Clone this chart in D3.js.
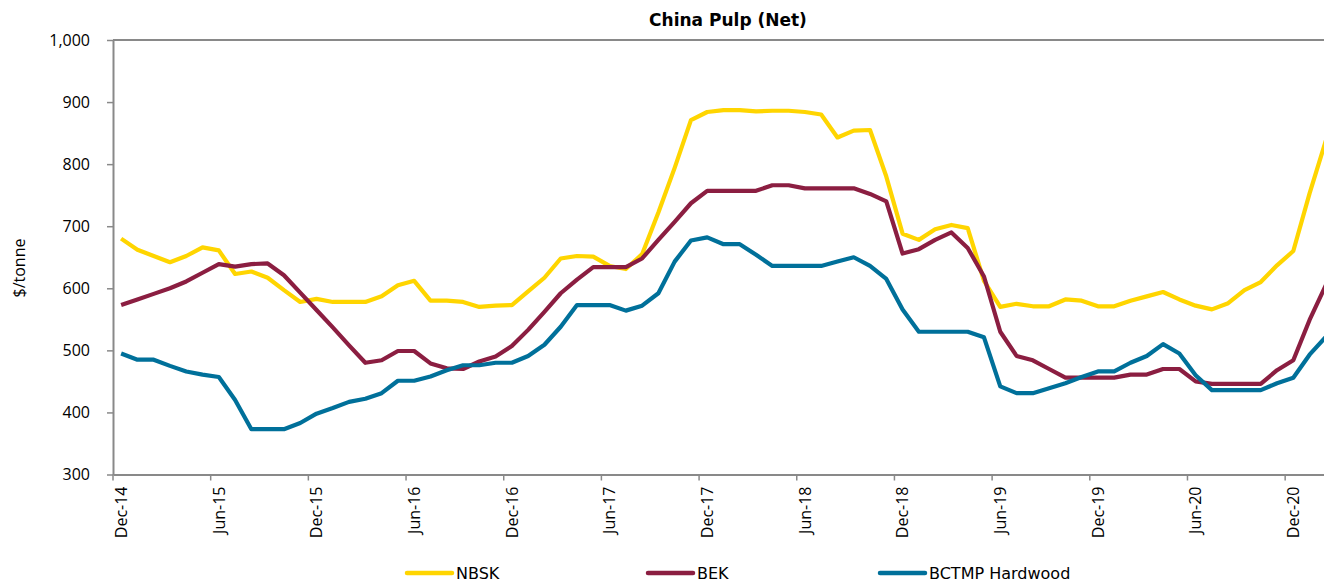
<!DOCTYPE html>
<html>
<head>
<meta charset="utf-8">
<script src="https://cdn.jsdelivr.net/npm/d3@7"></script>
<style>
  html, body { margin: 0; padding: 0; background: #fff; }
  svg { display: block; }
</style>
</head>
<body>
<div id="chart"></div>
<script>
// monthly prices, Dec-14 .. Feb-21 ($/tonne)
const firstMonth = new Date(2014, 11, 1);
const endMonth = new Date(2021, 2, 1); // exclusive
const tickLabels = ["Dec-14", "Jun-15", "Dec-15", "Jun-16", "Dec-16", "Jun-17", "Dec-17",
  "Jun-18", "Dec-18", "Jun-19", "Dec-19", "Jun-20", "Dec-20"];
const yTicks = [300, 400, 500, 600, 700, 800, 900, 1000];

const nbsk = [
  680, 662, 652, 642, 652, 666, 661, 623, 627, 617, 597, 578,
  583, 578, 578, 578, 587, 605, 612, 580, 580, 578, 570, 572,
  573, 595, 617, 648, 652, 651, 636, 631, 655, 722, 794, 871,
  884, 887, 887, 885, 886, 886, 884, 880, 843, 854, 855, 780,
  688, 678, 695, 702, 697, 612, 570, 575, 571, 571, 582, 580,
  571, 571, 580, 587, 594, 582, 572, 566, 576, 597, 610, 637,
  660, 753, 838
];
const bek = [
  573, 582, 591, 600, 611, 625, 639, 635, 639, 640, 621, 593,
  565, 537, 508, 480, 484, 499, 499, 479, 471, 470, 482, 490,
  507, 533, 562, 592, 614, 634, 634, 634, 648, 678, 707, 737,
  757, 757, 757, 757, 766, 766, 761, 761, 761, 761, 752, 740,
  656, 663, 678, 690, 665, 619, 530, 491, 484, 470, 456, 456,
  456, 456, 461, 461, 470, 470, 450, 446, 446, 446, 446, 468,
  484, 549, 605
];
const bctmp = [
  495, 485, 485, 475, 466, 461, 457, 420, 373, 373, 373, 383,
  398, 407, 417, 422, 431, 451, 451, 458, 468, 476, 476, 480,
  480, 491, 509, 538, 573, 573, 573, 564, 572, 592, 643, 677,
  682, 671, 671, 654, 636, 636, 636, 636, 643, 650, 636, 615,
  566, 530, 530, 530, 530, 521, 442, 431, 431, 439, 447, 457,
  466, 466, 480, 491, 510, 495, 460, 436, 436, 436, 436, 447,
  456, 493, 522
];

const seriesNames = ["NBSK", "BEK", "BCTMP Hardwood"];
const seriesValues = [nbsk, bek, bctmp];
const seriesColors = ["#FFD500", "#8B1E41", "#00709A"];

function init() {
    const w = 1324;
    const h = 582;
    const left = 113;
    const top = 40;
    const bottom = 474.5;
    const monthW = 16.28; // width of one month category
    const axisColor = "#898989";
    const tickFont = "'Open Sans', sans-serif";

    const fmt = d3.timeFormat("%b-%y");
    const months = d3.timeMonth.range(firstMonth, endMonth).map(fmt);

    const x = d3.scaleBand()
        .domain(months)
        .range([left, left + months.length * monthW])
        .paddingInner(0)
        .paddingOuter(0);
    const bw = x.bandwidth();

    const y = d3.scaleLinear()
        .domain([300, 1000])
        .range([bottom, top]);

    const svg = d3.select("#chart")
        .append("svg")
        .attr("width", w)
        .attr("height", h);

    svg.append("rect")
        .attr("width", w)
        .attr("height", h)
        .attr("fill", "#fff");

    // top border of the plot area
    svg.append("line")
        .attr("x1", left)
        .attr("x2", x.range()[1])
        .attr("y1", y(1000))
        .attr("y2", y(1000))
        .attr("stroke", axisColor)
        .attr("stroke-width", 2);

    // y axis
    const yAxis = svg.append("g")
        .attr("transform", `translate(${left},0)`)
        .call(d3.axisLeft(y)
            .tickValues(yTicks)
            .tickFormat(d3.format(","))
            .tickSize(6)
            .tickSizeOuter(0)
            .tickPadding(17));
    yAxis.select(".domain").attr("stroke", axisColor).attr("stroke-width", 2);
    yAxis.selectAll(".tick line").attr("stroke", axisColor).attr("stroke-width", 1.5);
    yAxis.selectAll(".tick text")
        .attr("fill", "#000")
        .style("font-family", tickFont)
        .style("font-size", "16px");

    // x axis: labels centred on the month, tick marks on the month boundary
    const xAxis = svg.append("g")
        .attr("transform", `translate(0,${bottom})`)
        .call(d3.axisBottom(x)
            .tickValues(tickLabels)
            .tickSize(6)
            .tickSizeOuter(0));
    xAxis.select(".domain").attr("stroke", axisColor).attr("stroke-width", 2);
    xAxis.selectAll(".tick line")
        .attr("x1", -bw / 2)
        .attr("x2", -bw / 2)
        .attr("stroke", axisColor)
        .attr("stroke-width", 1.5);
    xAxis.selectAll(".tick text")
        .attr("fill", "#000")
        .attr("transform", "rotate(-90)")
        .attr("x", -12)
        .attr("y", 0)
        .attr("dy", "0.36em")
        .style("text-anchor", "end")
        .style("font-family", tickFont)
        .style("font-size", "16px");

    // lines
    const line = d3.line()
        .x((d, i) => x(months[i]) + bw / 2)
        .y(d => y(d));

    svg.append("g")
        .selectAll("path")
        .data(seriesValues)
        .enter()
        .append("path")
        .attr("d", d => line(d))
        .attr("fill", "none")
        .attr("stroke", (d, i) => seriesColors[i])
        .attr("stroke-width", 4.2)
        .attr("stroke-linejoin", "round");

    // title
    svg.append("text")
        .attr("x", 728)
        .attr("y", 26)
        .attr("text-anchor", "middle")
        .style("font-family", "'DejaVu Sans', sans-serif")
        .style("font-weight", "bold")
        .style("font-size", "17px")
        .text("China Pulp (Net)");

    // y axis title
    svg.append("text")
        .attr("transform", "translate(25,268) rotate(-90)")
        .attr("text-anchor", "middle")
        .style("font-family", tickFont)
        .style("font-size", "16px")
        .text("$/tonne");

    // legend
    const legendX = [407, 648, 880];
    const legend = svg.append("g")
        .selectAll("g")
        .data(seriesNames)
        .enter()
        .append("g")
        .attr("transform", (d, i) => `translate(${legendX[i]},573)`);

    legend.append("line")
        .attr("x1", 0)
        .attr("x2", 45)
        .attr("stroke", (d, i) => seriesColors[i])
        .attr("stroke-width", 4.5)
        .attr("stroke-linecap", "round");

    legend.append("text")
        .attr("x", 49)
        .attr("y", 6)
        .style("font-family", "'DejaVu Sans', sans-serif")
        .style("font-size", "16px")
        .text(d => d);
}

window.onload = init;
</script>
</body>
</html>
